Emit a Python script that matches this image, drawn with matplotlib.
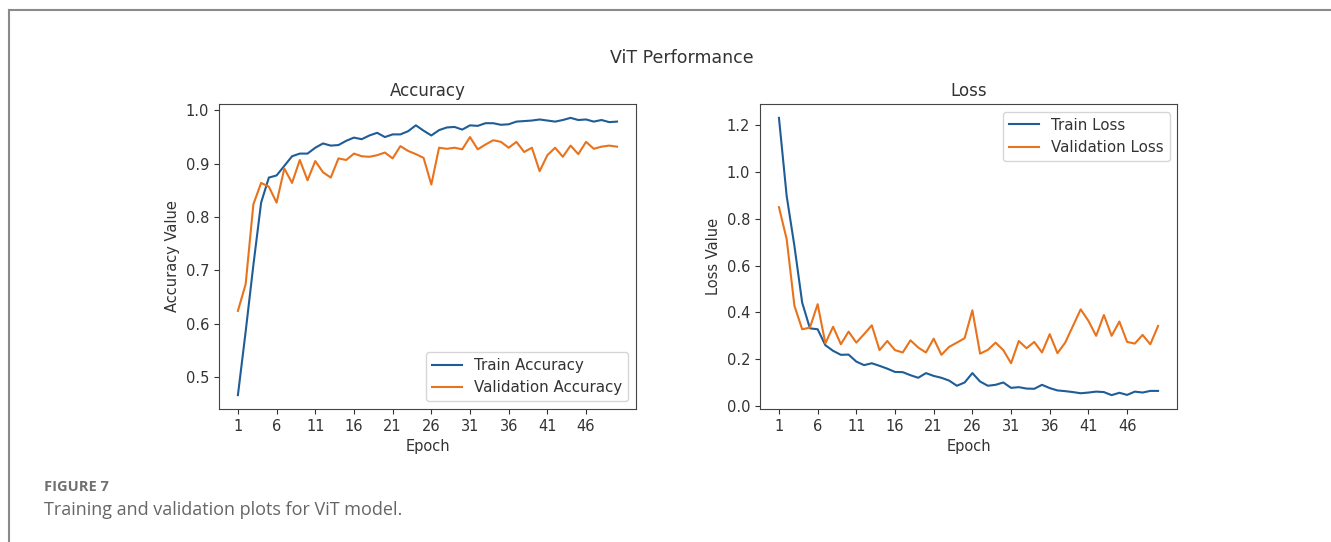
import matplotlib
matplotlib.use("Agg")
import matplotlib.pyplot as plt
from matplotlib.lines import Line2D
import numpy as np

# Werte (50 Epochen)
epochs = np.arange(1, 51)

train_acc = [0.466, 0.585, 0.71, 0.827, 0.874, 0.878, 0.896, 0.914, 0.919, 0.919,
             0.930, 0.938, 0.934, 0.935, 0.943, 0.949, 0.946, 0.953, 0.958, 0.950,
             0.955, 0.955, 0.961, 0.972, 0.962, 0.953, 0.963, 0.968, 0.969, 0.964,
             0.972, 0.971, 0.976, 0.976, 0.973, 0.974, 0.979, 0.980, 0.981, 0.983,
             0.981, 0.979, 0.982, 0.986, 0.982, 0.983, 0.979, 0.982, 0.978, 0.979]
val_acc = [0.624, 0.674, 0.824, 0.864, 0.857, 0.827, 0.891, 0.864, 0.907, 0.869,
           0.905, 0.884, 0.874, 0.910, 0.907, 0.919, 0.914, 0.913, 0.916, 0.921,
           0.910, 0.933, 0.924, 0.918, 0.911, 0.861, 0.930, 0.928, 0.930, 0.927,
           0.950, 0.927, 0.936, 0.944, 0.941, 0.930, 0.941, 0.922, 0.930, 0.886,
           0.916, 0.930, 0.913, 0.934, 0.918, 0.941, 0.928, 0.932, 0.934, 0.932]

train_loss = [1.23, 0.896, 0.683, 0.442, 0.332, 0.328, 0.260, 0.236, 0.219, 0.220,
              0.190, 0.175, 0.183, 0.172, 0.160, 0.146, 0.145, 0.132, 0.121, 0.141,
              0.129, 0.121, 0.109, 0.087, 0.101, 0.141, 0.105, 0.087, 0.091, 0.101,
              0.078, 0.081, 0.075, 0.074, 0.091, 0.077, 0.067, 0.064, 0.060, 0.055,
              0.058, 0.062, 0.060, 0.047, 0.057, 0.048, 0.062, 0.058, 0.065, 0.065]
val_loss = [0.849, 0.712, 0.428, 0.328, 0.335, 0.435, 0.268, 0.339, 0.264, 0.318,
            0.271, 0.307, 0.345, 0.239, 0.278, 0.239, 0.229, 0.281, 0.250, 0.229,
            0.288, 0.219, 0.253, 0.271, 0.290, 0.409, 0.224, 0.240, 0.271, 0.239,
            0.183, 0.278, 0.247, 0.274, 0.229, 0.307, 0.226, 0.271, 0.342, 0.413,
            0.364, 0.300, 0.389, 0.300, 0.361, 0.274, 0.267, 0.304, 0.264, 0.342]

blue = '#1f5d96'
orange = '#e8731c'
text_c = '#333333'

plt.rcParams['font.family'] = ['DejaVu Sans']
plt.rcParams['text.color'] = text_c
plt.rcParams['axes.labelcolor'] = text_c
plt.rcParams['xtick.color'] = text_c
plt.rcParams['ytick.color'] = text_c
plt.rcParams['xtick.labelsize'] = 10.5
plt.rcParams['ytick.labelsize'] = 10.5
plt.rcParams['axes.edgecolor'] = '#444444'

fig = plt.figure(figsize=(13.31, 5.42), dpi=100)
ax1 = fig.add_axes([0.1645, 0.2454, 0.3133, 0.5627])
ax2 = fig.add_axes([0.571, 0.2454, 0.3133, 0.5627])

ax1.plot(epochs, train_acc, color=blue, lw=1.5, label='Train Accuracy')
ax1.plot(epochs, val_acc, color=orange, lw=1.5, label='Validation Accuracy')
ax1.set_title('Accuracy', fontsize=12)
ax1.set_xlabel('Epoch', fontsize=10.5)
ax1.set_ylabel('Accuracy Value', fontsize=10.5)
ax1.set_xticks(range(1, 51, 5))
ax1.legend(loc='lower right', fontsize=10.8)

ax2.plot(epochs, train_loss, color=blue, lw=1.5, label='Train Loss')
ax2.plot(epochs, val_loss, color=orange, lw=1.5, label='Validation Loss')
ax2.set_title('Loss', fontsize=12)
ax2.set_xlabel('Epoch', fontsize=10.5)
ax2.set_ylabel('Loss Value', fontsize=10.5)
ax2.set_xticks(range(1, 51, 5))
ax2.legend(loc='upper right', fontsize=10.8)

fig.text(0.5125, 0.893, 'ViT Performance', ha='center', va='center', fontsize=12.5)

# Rahmen und Bildunterschrift
fig.add_artist(Line2D([0.0071, 1.0], [0.9815, 0.9815], color='#8a8a8a', lw=1.5))
fig.add_artist(Line2D([0.0071, 0.0071], [0.0, 0.9815], color='#8a8a8a', lw=1.5))
fig.text(0.033, 1 - 487 / 542, 'FIGURE 7', ha='left', va='center', fontsize=10.5,
         fontweight='bold', color='#707070', family=['Open Sans', 'DejaVu Sans'])
fig.text(0.033, 1 - 510 / 542, 'Training and validation plots for ViT model.', ha='left',
         va='center', fontsize=13, color='#666666', family=['Open Sans', 'DejaVu Sans'])

fig.savefig('out.png', dpi=100)
